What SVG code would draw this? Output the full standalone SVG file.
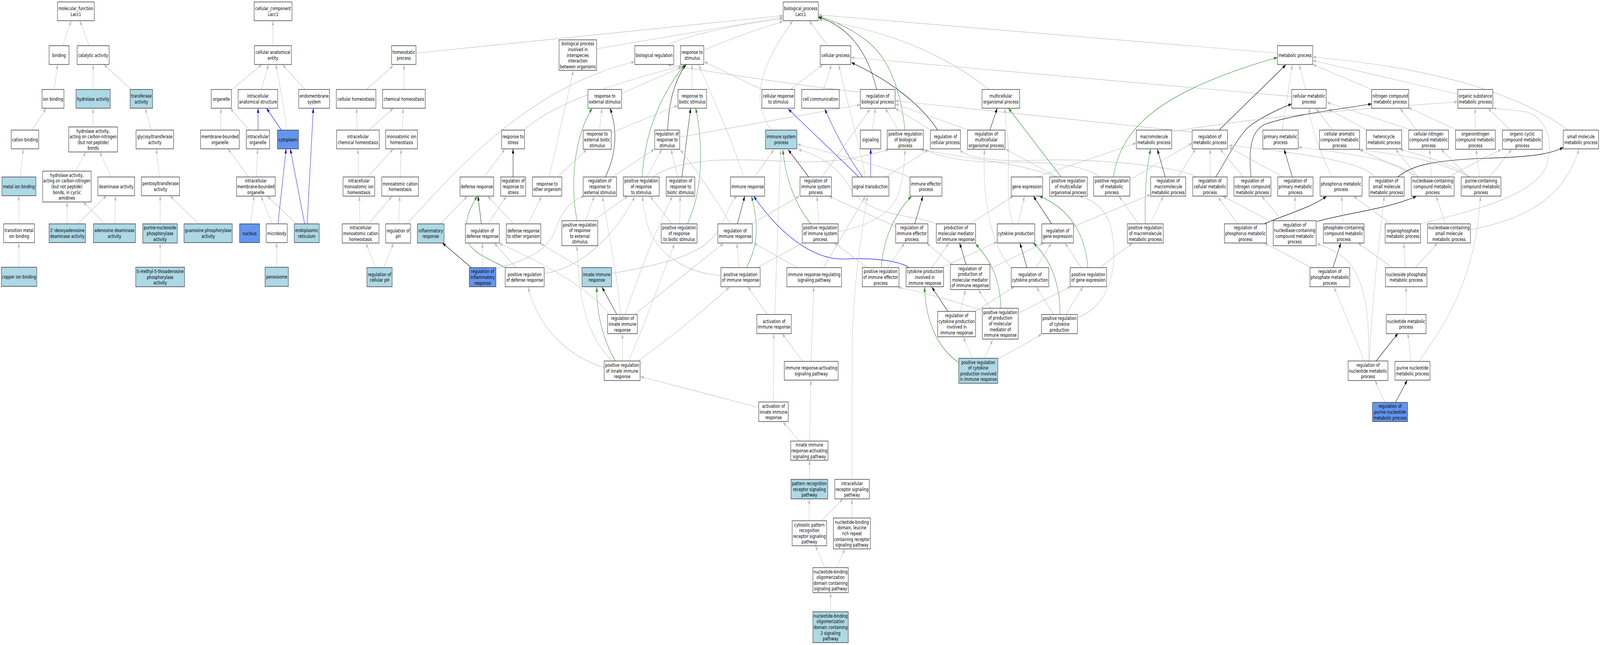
<svg xmlns="http://www.w3.org/2000/svg" width="5704" height="1651" viewBox="0 0 5704 1651" preserveAspectRatio="none" style="width:100vw;height:100vh;display:block">
<defs>
<marker id="mg" viewBox="0 0 12 8" refX="12" refY="4" markerWidth="12" markerHeight="8" markerUnits="userSpaceOnUse" orient="auto"><path d="M0,0L12,4L0,8z" fill="#BEBEBE"/></marker>
<marker id="mk" viewBox="0 0 12 8" refX="12" refY="4" markerWidth="12" markerHeight="8" markerUnits="userSpaceOnUse" orient="auto"><path d="M0,0L12,4L0,8z" fill="#000"/></marker>
<marker id="mv" viewBox="0 0 12 8" refX="12" refY="4" markerWidth="12" markerHeight="8" markerUnits="userSpaceOnUse" orient="auto"><path d="M0,0L12,4L0,8z" fill="#228B22"/></marker>
<marker id="mb" viewBox="0 0 12 8" refX="12" refY="4" markerWidth="12" markerHeight="8" markerUnits="userSpaceOnUse" orient="auto"><path d="M0,0L12,4L0,8z" fill="#0000FF"/></marker>
</defs>
<style>
.n rect{fill:#fff;stroke:#333;stroke-width:1.4}
.n.lb rect{fill:#ADD8E6}
.n.cb rect{fill:#6495ED}
text{font-family:"DejaVu Sans","Liberation Sans",sans-serif;font-size:13px;text-anchor:middle;fill:#000}
.e path{fill:none;stroke-width:1.2}
.e .g{stroke:#BEBEBE;marker-end:url(#mg)}
.e .k{stroke:#000;marker-end:url(#mk)}
.e .v{stroke:#228B22;marker-end:url(#mv)}
.e .b{stroke:#0000FF;marker-end:url(#mb)}
</style>
<rect x="0" y="0" width="5704" height="1651" fill="#fff"/>
<g id="edges" class="e">
<path class="g" d="M223.5,117L254,53"/>
<path class="g" d="M318,117L285,53"/>
<path class="g" d="M193.5,229L205,165"/>
<path class="g" d="M332,229L332,165"/>
<path class="g" d="M467,229L370.5,165"/>
<path class="g" d="M113,333L165,277"/>
<path class="g" d="M332,325L332,277"/>
<path class="g" d="M540,333L517,277"/>
<path class="g" d="M72,453L83,381"/>
<path class="g" d="M269,438L306,389"/>
<path class="g" d="M398,453L355,389"/>
<path class="g" d="M568,453L557,381"/>
<path class="g" d="M67,573L67,501"/>
<path class="g" d="M239.5,573L239,517"/>
<path class="g" d="M275.5,573L380,501"/>
<path class="g" d="M373.5,573L297,517"/>
<path class="g" d="M409,573L412,501"/>
<path class="g" d="M571,573L571,501"/>
<path class="g" d="M708.5,573L606,501"/>
<path class="g" d="M67,684L67,621"/>
<path class="g" d="M571,684L571,622"/>
<path class="g" d="M973,117L973,53"/>
<path class="g" d="M827,229L934,165"/>
<path class="g" d="M932,229L957,165"/>
<path class="g" d="M1023,333Q1005,240 983,165"/>
<path class="g" d="M1087,229L1007,165"/>
<path class="g" d="M786,333L788,277"/>
<path class="g" d="M889,333L820.5,277"/>
<path class="b" d="M920,333L920,277"/>
<path class="b" d="M1003,333L950,277"/>
<path class="g" d="M886,453L812.5,381"/>
<path class="g" d="M914,453L918.5,381"/>
<path class="g" d="M894,573L906,501"/>
<path class="g" d="M971,573L930,502"/>
<path class="g" d="M1057,573L953,502"/>
<path class="b" d="M991,573L1020,381"/>
<path class="b" d="M1086,573L1035,381"/>
<path class="b" d="M1095,573L1117,277"/>
<path class="g" d="M986.5,685L986.5,621"/>
<path class="g" d="M1483,136L2792,40"/>
<path class="g" d="M1306,229L1402,168"/>
<path class="g" d="M1440,229L1440,165"/>
<path class="g" d="M1274,333L1271,277"/>
<path class="g" d="M1315,333L1402,277"/>
<path class="g" d="M1434,333L1437,277"/>
<path class="g" d="M1279,453L1276,381"/>
<path class="g" d="M1311,453L1402,381"/>
<path class="g" d="M1427,453L1430,381"/>
<path class="g" d="M1283,573L1281,502"/>
<path class="g" d="M1314,573L1398,502"/>
<path class="g" d="M1421,573L1425,502"/>
<path class="g" d="M1451,573C1650,415 1900,220 2263,158"/>
<path class="g" d="M1339,685L1304,622"/>
<path class="g" d="M1368,685L1403,622"/>
<path class="g" d="M1726,453L1800,381"/>
<path class="g" d="M1569,573L1666,502"/>
<path class="k" d="M1716,573L1704,502"/>
<path class="v" d="M1802,685C1720,655 1655,640 1660,585C1663,550 1685,520 1702,502"/>
<path class="g" d="M1832,573L1738,502"/>
<path class="g" d="M1883,573L1931,502"/>
<path class="k" d="M1829,453L1829,381"/>
<path class="g" d="M1740,573L1805,502"/>
<path class="k" d="M1679,684L1577,622"/>
<path class="g" d="M1720,684L1720,622"/>
<path class="g" d="M1839,685L1762,622"/>
<path class="g" d="M1768,688C1900,660 1960,640 1990,570C2010,530 2050,510 2083,502"/>
<path class="g" d="M1940,700C2050,690 2180,620 2263,503"/>
<path class="g" d="M2076,688L1926,623"/>
<path class="g" d="M2172,805Q2080,718 1779,623"/>
<path class="k" d="M2199,805L2146,735"/>
<path class="g" d="M2213,805C2200,700 2170,600 2148,503"/>
<path class="g" d="M2228,805C2270,720 2330,600 2397,502"/>
<path class="g" d="M2262,805L2579,623"/>
<path class="v" d="M2057,565C2035,480 2040,360 2111,277"/>
<path class="g" d="M2087,565L2119,502"/>
<path class="g" d="M2114,565L2239,502"/>
<path class="k" d="M2158,453C2200,390 2200,330 2175,277"/>
<path class="g" d="M2183,453L2333,382"/>
<path class="v" d="M2289,453C2300,330 2360,240 2440,166"/>
<path class="g" d="M2305,453L2360,382"/>
<path class="g" d="M2328,453C2420,405 2600,405 2800,413S3100,395 3169,383"/>
<path class="k" d="M2431,453L2462,277"/>
<path class="g" d="M2416,453L2392,382"/>
<path class="g" d="M2423,573L2425,502"/>
<path class="v" d="M2451,573C2510,480 2505,360 2480,277"/>
<path class="g" d="M2395,573L2317,502"/>
<path class="k" d="M2380,333C2385,250 2410,200 2446,165"/>
<path class="g" d="M2423,351L3067,268"/>
<path class="g" d="M2137,333L2146,277"/>
<path class="g" d="M2179,340L2416,270"/>
<path class="g" d="M1958,453L2044,180"/>
<path class="g" d="M1988,453L2092,382"/>
<path class="g" d="M1867,333C1950,280 2100,230 2432,168"/>
<path class="g" d="M2216,239L2430,172"/>
<path class="g" d="M2467,229L2467,165"/>
<path class="g" d="M2127,125L2792,44"/>
<path class="g" d="M2376,117C2420,100 2550,70 2792,48"/>
<path class="g" d="M2509,128Q2650,85 2792,55"/>
<path class="g" d="M2716,229L2510,158"/>
<path class="g" d="M3067,236Q2800,215 2381,166"/>
<path class="g" d="M2652,453C2620,380 2560,280 2491,166"/>
<path class="g" d="M2951,117L2885,53"/>
<path class="g" d="M2749,333C2680,260 2700,180 2826,53"/>
<path class="k" d="M3125,229C3100,150 3040,70 2917,44"/>
<path class="v" d="M3226,333C3215,250 3180,160 3100,110C3040,75 2980,55 2919,42"/>
<path class="k" d="M3343,333C3280,265 3170,205 3035,160"/>
<path class="g" d="M4606,247L3033,147"/>
<path class="g" d="M4554,136L2917,38"/>
<path class="g" d="M3527,229C3420,170 3250,90 2919,50"/>
<path class="g" d="M2818,229L2933,166"/>
<path class="g" d="M2936,229L2964,166"/>
<path class="g" d="M3086,453C3060,360 3020,260 2990,166"/>
<path class="b" d="M3062,453L2810,279"/>
<path class="b" d="M3075,453Q3008,388 2940,279"/>
<path class="b" d="M3104,453L3104,381"/>
<path class="g" d="M3158,453L3311,383"/>
<path class="g" d="M3110,333L3121,277"/>
<path class="g" d="M3203,333L3156,277"/>
<path class="g" d="M3319,333L3191,277"/>
<path class="g" d="M4250,338L3191,258"/>
<path class="g" d="M3453,333L3191,266"/>
<path class="g" d="M2931,453L3102,279"/>
<path class="g" d="M2690,453L2759,383"/>
<path class="k" d="M2883,453L2810,383"/>
<path class="v" d="M2891,573C2840,530 2800,460 2791,383"/>
<path class="g" d="M2762,805L2783,383"/>
<path class="g" d="M3244,455Q3200,435 2842,369"/>
<path class="g" d="M3338,573C3250,545 3100,560 3030,480C2990,430 2920,395 2845,383"/>
<path class="k" d="M2629,573L2655,502"/>
<path class="v" d="M2661,685C2710,620 2700,560 2679,502"/>
<path class="b" d="M3241,685C3200,665 3100,660 3008,663C2900,665 2780,600 2687,502"/>
<path class="g" d="M2180,700C2380,675 2510,650 2560,590C2590,550 2605,515 2628,502"/>
<path class="g" d="M2604,573C2560,520 2480,430 2424,383"/>
<path class="g" d="M2679,573L2850,502"/>
<path class="g" d="M2920,573L2912,502"/>
<path class="g" d="M2988,593C3100,578 3190,545 3210,480Q3225,430 3226,383"/>
<path class="k" d="M3261,573L3290,502"/>
<path class="g" d="M3193,580L2955,502"/>
<path class="g" d="M2636,685L2627,622"/>
<path class="g" d="M2700,685L2861,622"/>
<path class="g" d="M2570,705C2450,700 2340,650 2310,580Q2295,540 2290,502"/>
<path class="g" d="M2842,685L2687,622"/>
<path class="g" d="M2936,685L3086,502"/>
<path class="v" d="M3142,685C3150,600 3200,540 3249,502"/>
<path class="g" d="M3164,685L3225,622"/>
<path class="g" d="M3093,685L2974,622"/>
<path class="g" d="M3322,685L3383,622"/>
<path class="g" d="M3357,685L3555,619"/>
<path class="g" d="M2735,805L2666,734"/>
<path class="g" d="M2862,925L2788,854"/>
<path class="g" d="M2757,1029L2759,854"/>
<path class="g" d="M2891,925L2901,734"/>
<path class="g" d="M3037,1227L3038,880C3040,750 3070,600 3092,502"/>
<path class="g" d="M2705,1043L2283,964"/>
<path class="g" d="M2850,1129L2791,1080"/>
<path class="g" d="M2886,1129L2891,973"/>
<path class="g" d="M2886,1227L2886,1178"/>
<path class="g" d="M2885,1333L2885,1277"/>
<path class="g" d="M2929,1333L3005,1277"/>
<path class="g" d="M3037,1326L3037,1277"/>
<path class="g" d="M2940,1453L2907,1397"/>
<path class="g" d="M2982,1453L3012,1405"/>
<path class="g" d="M2961,1566L2961,1517"/>
<path class="g" d="M2154,941C2020,910 1920,840 1883,735"/>
<path class="g" d="M2182,924C2110,870 2062,800 2057,629"/>
<path class="v" d="M2194,924C2150,870 2125,800 2128,735"/>
<path class="g" d="M2240,924C2290,850 2340,740 2405,624"/>
<path class="g" d="M2274,924Q2420,850 2601,735"/>
<path class="g" d="M2219,924L2219,854"/>
<path class="k" d="M3529,333L3555,277"/>
<path class="v" d="M3783,453L3595,277"/>
<path class="g" d="M3770,453L3585,382"/>
<path class="g" d="M3765,453C3650,420 3450,405 3282,383"/>
<path class="g" d="M3922,453C3850,415 3700,415 3550,415C3430,415 3350,400 3292,383"/>
<path class="g" d="M4265,453C4200,425 3900,405 3700,410C3550,415 3450,405 3421,383"/>
<path class="g" d="M3697,453L4051,366"/>
<path class="v" d="M3969,453C3995,340 4100,240 4554,147"/>
<path class="g" d="M4028,460L4250,366"/>
<path class="k" d="M4154,453L4126,382"/>
<path class="g" d="M4199,453L4263,381"/>
<path class="g" d="M3630,573L3652,502"/>
<path class="g" d="M3610,573C3580,500 3605,400 3590,340Q3584,300 3582,277"/>
<path class="g" d="M3459,573L3612,502"/>
<path class="k" d="M3749,573L3684,502"/>
<path class="g" d="M3827,580L4102,498"/>
<path class="v" d="M4083,573C4080,480 4090,420 4102,382"/>
<path class="g" d="M4059,573L3989,502"/>
<path class="g" d="M4101,573L4147,502"/>
<path class="k" d="M3444,677L3421,622"/>
<path class="g" d="M3399,680L3303,622"/>
<path class="g" d="M3529,688L3721,622"/>
<path class="k" d="M3661,685L3636,622"/>
<path class="g" d="M3694,685L3748,622"/>
<path class="g" d="M3606,685C3540,640 3500,520 3510,382"/>
<path class="v" d="M3878,685C3870,590 3800,530 3705,502"/>
<path class="g" d="M3855,685L3796,622"/>
<path class="g" d="M3922,685L4037,622"/>
<path class="k" d="M3379,797L3322,735"/>
<path class="g" d="M3478,797L3617,733"/>
<path class="g" d="M3424,797L3442,742"/>
<path class="v" d="M3568,789C3565,700 3520,660 3478,624"/>
<path class="g" d="M3531,789L3488,742"/>
<path class="g" d="M3502,795C3400,770 3300,750 3201,735"/>
<path class="g" d="M3630,802L3818,733"/>
<path class="v" d="M3779,805C3780,720 3740,660 3684,622"/>
<path class="g" d="M3756,805L3695,735"/>
<path class="g" d="M3799,805L3861,734"/>
<path class="g" d="M3842,813C3960,780 3990,680 3960,580C3940,530 3890,510 3847,502"/>
<path class="v" d="M3418,928C3340,890 3300,820 3296,735"/>
<path class="g" d="M3467,917L3434,863"/>
<path class="g" d="M3510,917L3539,870"/>
<path class="g" d="M3557,919C3620,895 3680,870 3714,855"/>
<path class="k" d="M4346,333L4584,166"/>
<path class="g" d="M4655,229L4631,166"/>
<path class="g" d="M4571,333L4607,166"/>
<path class="g" d="M5591,333C5450,260 5200,180 4680,146"/>
<path class="g" d="M5197,241L4680,155"/>
<path class="g" d="M4890,229L4680,165"/>
<path class="k" d="M4334,453C4380,400 4420,340 4460,320Q4520,290 4605,266"/>
<path class="g" d="M4748,453C4700,380 4675,330 4667,277"/>
<path class="g" d="M4750,333L4691,277"/>
<path class="g" d="M4873,333L4735,279"/>
<path class="g" d="M5034,333L4730,262"/>
<path class="g" d="M4177,337C4400,310 4700,285 5197,261"/>
<path class="g" d="M5045,453C5000,415 4850,395 4628,377"/>
<path class="g" d="M5060,453L4845,383"/>
<path class="g" d="M5055,453L4975,382"/>
<path class="g" d="M5103,453L5097,382"/>
<path class="g" d="M5161,453L5353,382"/>
<path class="g" d="M5239,453C5100,400 4950,395 4847,382"/>
<path class="g" d="M5243,453C5150,410 5050,395 4991,382"/>
<path class="g" d="M5235,453L5137,382"/>
<path class="g" d="M5275,453L5262,382"/>
<path class="g" d="M5310,453L5390,382"/>
<path class="g" d="M5050,333L4991,277"/>
<path class="g" d="M5194,333L5020,275"/>
<path class="g" d="M5259,333L5259,277"/>
<path class="g" d="M5385,333L5305,277"/>
<path class="g" d="M5050,575C5250,540 5480,500 5515,420C5545,340 5490,290 5430,285Q5370,280 5322,277"/>
<path class="g" d="M4314,453L4314,381"/>
<path class="g" d="M4433,453L4349,381"/>
<path class="g" d="M4574,453L4381,377"/>
<path class="g" d="M4900,453C4860,410 4600,390 4381,372"/>
<path class="k" d="M4607,453L4578,382"/>
<path class="k" d="M4460,453C4450,380 4460,335 4510,318C4600,295 4750,282 4890,266"/>
<path class="k" d="M4983,453C5030,425 5100,410 5300,405C5450,402 5530,395 5573,377"/>
<path class="k" d="M4507,573C4580,550 4680,530 4729,502"/>
<path class="g" d="M4413,573L4343,505"/>
<path class="k" d="M4694,567C4800,545 4950,535 5050,502"/>
<path class="g" d="M4536,569L4359,502"/>
<path class="g" d="M4573,566L4498,502"/>
<path class="g" d="M4616,565L4617,502"/>
<path class="g" d="M4788,573L4783,502"/>
<path class="g" d="M4959,573L4825,502"/>
<path class="g" d="M5153,573L5120,502"/>
<path class="g" d="M5242,588C5450,560 5580,500 5629,382"/>
<path class="k" d="M4752,685L4780,622"/>
<path class="g" d="M4675,685L4507,622"/>
<path class="g" d="M4964,685L4841,622"/>
<path class="g" d="M5010,685L5005,622"/>
<path class="g" d="M5046,685L5125,622"/>
<path class="g" d="M5013,805L5013,734"/>
<path class="k" d="M4906,924L4984,853"/>
<path class="g" d="M4864,924L4756,735"/>
<path class="g" d="M4880,924C4880,820 4875,720 4800,665Q4750,635 4694,624"/>
<path class="g" d="M4881,924C4890,800 4910,650 4935,502"/>
<path class="g" d="M5031,925L5019,853"/>
<path class="g" d="M5059,925C5150,830 5260,720 5278,502"/>
<path class="g" d="M4938,1030L4902,974"/>
<path class="k" d="M4975,1030L5017,973"/>
</g>
<g id="nodes">
<g id="mf_root" class="n"><rect x="205" y="5" width="131" height="48"/><text><tspan x="270.5" y="26.3">molecular_function</tspan><tspan x="270.5" y="40.9">Lacc1</tspan></text></g>
<g id="mf_binding" class="n"><rect x="175" y="117" width="71" height="48"/><text><tspan x="210.5" y="145.6">binding</tspan></text></g>
<g id="mf_catalytic" class="n"><rect x="275" y="117" width="114" height="48"/><text><tspan x="332" y="145.6">catalytic activity</tspan></text></g>
<g id="mf_ion" class="n"><rect x="150" y="229" width="78" height="48"/><text><tspan x="189" y="257.6">ion binding</tspan></text></g>
<g id="mf_hydrolase" class="n lb"><rect x="271" y="229" width="122" height="48"/><text><tspan x="332" y="257.6">hydrolase activity</tspan></text></g>
<g id="mf_transferase" class="n lb"><rect x="464" y="229" width="80" height="48"/><text><tspan x="504" y="250.3">transferase</tspan><tspan x="504" y="264.9">activity</tspan></text></g>
<g id="mf_cation" class="n"><rect x="40" y="333" width="98" height="48"/><text><tspan x="89" y="361.6">cation binding</tspan></text></g>
<g id="mf_hydcn" class="n"><rect x="245" y="325" width="174" height="64"/><text><tspan x="332" y="339.7">hydrolase activity,</tspan><tspan x="332" y="354.3">acting on carbon-nitrogen</tspan><tspan x="332" y="368.9">(but not peptide)</tspan><tspan x="332" y="383.5">bonds</tspan></text></g>
<g id="mf_glyco" class="n"><rect x="485" y="333" width="134" height="48"/><text><tspan x="552" y="354.3">glycosyltransferase</tspan><tspan x="552" y="368.9">activity</tspan></text></g>
<g id="mf_metal" class="n lb"><rect x="7" y="453" width="121" height="48"/><text><tspan x="67.5" y="481.6">metal ion binding</tspan></text></g>
<g id="mf_cyclic" class="n"><rect x="152" y="438" width="173" height="79"/><text><tspan x="238.5" y="452.9">hydrolase activity,</tspan><tspan x="238.5" y="467.5">acting on carbon-nitrogen</tspan><tspan x="238.5" y="482.1">(but not peptide)</tspan><tspan x="238.5" y="496.7">bonds, in cyclic</tspan><tspan x="238.5" y="511.3">amidines</tspan></text></g>
<g id="mf_deaminase" class="n"><rect x="349" y="453" width="131" height="48"/><text><tspan x="414.5" y="481.6">deaminase activity</tspan></text></g>
<g id="mf_pentosyl" class="n"><rect x="504" y="453" width="136" height="48"/><text><tspan x="572" y="474.3">pentosyltransferase</tspan><tspan x="572" y="488.9">activity</tspan></text></g>
<g id="mf_transition" class="n"><rect x="13" y="573" width="110" height="48"/><text><tspan x="68" y="594.3">transition metal</tspan><tspan x="68" y="608.9">ion binding</tspan></text></g>
<g id="mf_deoxyad" class="n lb"><rect x="175" y="573" width="130" height="48"/><text><tspan x="240" y="594.3">2'-deoxyadenosine</tspan><tspan x="240" y="608.9">deaminase activity</tspan></text></g>
<g id="mf_adenosine" class="n lb"><rect x="333" y="573" width="150" height="48"/><text><tspan x="408" y="594.3">adenosine deaminase</tspan><tspan x="408" y="608.9">activity</tspan></text></g>
<g id="mf_pnp" class="n lb"><rect x="509" y="573" width="123" height="49"/><text><tspan x="570.5" y="587.5">purine-nucleoside</tspan><tspan x="570.5" y="602.1">phosphorylase</tspan><tspan x="570.5" y="616.7">activity</tspan></text></g>
<g id="mf_guanosine" class="n lb"><rect x="656" y="573" width="172" height="48"/><text><tspan x="742" y="594.3">guanosine phosphorylase</tspan><tspan x="742" y="608.9">activity</tspan></text></g>
<g id="mf_copper" class="n lb"><rect x="5" y="684" width="126" height="49"/><text><tspan x="68" y="713.1">copper ion binding</tspan></text></g>
<g id="mf_mtap" class="n lb"><rect x="484" y="684" width="174" height="50"/><text><tspan x="571" y="699">S-methyl-5-thioadenosine</tspan><tspan x="571" y="713.6">phosphorylase</tspan><tspan x="571" y="728.2">activity</tspan></text></g>
<g id="cc_root" class="n"><rect x="906" y="5" width="135" height="48"/><text><tspan x="973.5" y="26.3">cellular_component</tspan><tspan x="973.5" y="40.9">Lacc1</tspan></text></g>
<g id="cc_entity" class="n"><rect x="907" y="117" width="132" height="48"/><text><tspan x="973" y="138.3">cellular anatomical</tspan><tspan x="973" y="152.9">entity</tspan></text></g>
<g id="cc_organelle" class="n"><rect x="753" y="229" width="72" height="48"/><text><tspan x="789" y="257.6">organelle</tspan></text></g>
<g id="cc_intra_struct" class="n"><rect x="849" y="229" width="141" height="48"/><text><tspan x="919.5" y="250.3">intracellular</tspan><tspan x="919.5" y="264.9">anatomical structure</tspan></text></g>
<g id="cc_endomem" class="n"><rect x="1065" y="229" width="110" height="48"/><text><tspan x="1120" y="250.3">endomembrane</tspan><tspan x="1120" y="264.9">system</tspan></text></g>
<g id="cc_mbo" class="n"><rect x="715" y="333" width="138" height="48"/><text><tspan x="784" y="354.3">membrane-bounded</tspan><tspan x="784" y="368.9">organelle</tspan></text></g>
<g id="cc_io" class="n"><rect x="878" y="333" width="83" height="48"/><text><tspan x="919.5" y="354.3">intracellular</tspan><tspan x="919.5" y="368.9">organelle</tspan></text></g>
<g id="cc_cytoplasm" class="n cb"><rect x="989" y="333" width="75" height="48"/><text><tspan x="1026.5" y="361.6">cytoplasm</tspan></text></g>
<g id="cc_imbo" class="n"><rect x="843" y="453" width="138" height="49"/><text><tspan x="912" y="467.5">intracellular</tspan><tspan x="912" y="482.1">membrane-bounded</tspan><tspan x="912" y="496.7">organelle</tspan></text></g>
<g id="cc_nucleus" class="n cb"><rect x="854" y="573" width="71" height="48"/><text><tspan x="889.5" y="601.6">nucleus</tspan></text></g>
<g id="cc_microbody" class="n"><rect x="949" y="573" width="75" height="48"/><text><tspan x="986.5" y="601.6">microbody</tspan></text></g>
<g id="cc_er" class="n lb"><rect x="1049" y="573" width="89" height="48"/><text><tspan x="1093.5" y="594.3">endoplasmic</tspan><tspan x="1093.5" y="608.9">reticulum</tspan></text></g>
<g id="cc_peroxisome" class="n lb"><rect x="945" y="684" width="83" height="49"/><text><tspan x="986.5" y="713.1">peroxisome</tspan></text></g>
<g id="b1" class="n"><rect x="2792" y="5" width="125" height="48"/><text><tspan x="2854.5" y="26.3">biological_process</tspan><tspan x="2854.5" y="40.9">Lacc1</tspan></text></g>
<g id="b2" class="n"><rect x="1396" y="117" width="87" height="48"/><text><tspan x="1439.5" y="138.3">homeostatic</tspan><tspan x="1439.5" y="152.9">process</tspan></text></g>
<g id="b3" class="n"><rect x="1993" y="102" width="134" height="78"/><text><tspan x="2060" y="116.4">biological process</tspan><tspan x="2060" y="131">involved in</tspan><tspan x="2060" y="145.6">interspecies</tspan><tspan x="2060" y="160.2">interaction</tspan><tspan x="2060" y="174.8">between organisms</tspan></text></g>
<g id="b4" class="n"><rect x="2263" y="117" width="139" height="48"/><text><tspan x="2332.5" y="145.6">biological regulation</tspan></text></g>
<g id="b5" class="n"><rect x="2426" y="117" width="83" height="48"/><text><tspan x="2467.5" y="138.3">response to</tspan><tspan x="2467.5" y="152.9">stimulus</tspan></text></g>
<g id="b6" class="n"><rect x="2924" y="117" width="109" height="48"/><text><tspan x="2978.5" y="145.6">cellular process</tspan></text></g>
<g id="b7" class="n"><rect x="4554" y="117" width="126" height="48"/><text><tspan x="4617" y="145.6">metabolic process</tspan></text></g>
<g id="b8" class="n"><rect x="1199" y="229" width="141" height="48"/><text><tspan x="1269.5" y="257.6">cellular homeostasis</tspan></text></g>
<g id="b9" class="n"><rect x="1364" y="229" width="152" height="48"/><text><tspan x="1440" y="257.6">chemical homeostasis</tspan></text></g>
<g id="b10" class="n"><rect x="2096" y="229" width="120" height="48"/><text><tspan x="2156" y="250.3">response to</tspan><tspan x="2156" y="264.9">external stimulus</tspan></text></g>
<g id="b11" class="n"><rect x="2417" y="229" width="102" height="48"/><text><tspan x="2468" y="250.3">response to</tspan><tspan x="2468" y="264.9">biotic stimulus</tspan></text></g>
<g id="b12" class="n"><rect x="2716" y="229" width="117" height="48"/><text><tspan x="2774.5" y="250.3">cellular response</tspan><tspan x="2774.5" y="264.9">to stimulus</tspan></text></g>
<g id="b13" class="n"><rect x="2858" y="229" width="134" height="48"/><text><tspan x="2925" y="257.6">cell communication</tspan></text></g>
<g id="b14" class="n"><rect x="3067" y="229" width="124" height="48"/><text><tspan x="3129" y="250.3">regulation of</tspan><tspan x="3129" y="264.9">biological process</tspan></text></g>
<g id="b15" class="n"><rect x="3501" y="229" width="134" height="48"/><text><tspan x="3568" y="250.3">multicellular</tspan><tspan x="3568" y="264.9">organismal process</tspan></text></g>
<g id="b16" class="n"><rect x="4605" y="229" width="123" height="48"/><text><tspan x="4666.5" y="250.3">cellular metabolic</tspan><tspan x="4666.5" y="264.9">process</tspan></text></g>
<g id="b17" class="n"><rect x="4890" y="229" width="132" height="48"/><text><tspan x="4956" y="250.3">nitrogen compound</tspan><tspan x="4956" y="264.9">metabolic process</tspan></text></g>
<g id="b18" class="n"><rect x="5197" y="229" width="125" height="48"/><text><tspan x="5259.5" y="250.3">organic substance</tspan><tspan x="5259.5" y="264.9">metabolic process</tspan></text></g>
<g id="b19" class="n"><rect x="1200" y="333" width="152" height="48"/><text><tspan x="1276" y="354.3">intracellular</tspan><tspan x="1276" y="368.9">chemical homeostasis</tspan></text></g>
<g id="b20" class="n"><rect x="1375" y="333" width="113" height="48"/><text><tspan x="1431.5" y="354.3">monoatomic ion</tspan><tspan x="1431.5" y="368.9">homeostasis</tspan></text></g>
<g id="b21" class="n"><rect x="1788" y="333" width="82" height="48"/><text><tspan x="1829" y="354.3">response to</tspan><tspan x="1829" y="368.9">stress</tspan></text></g>
<g id="b22" class="n"><rect x="2079" y="333" width="100" height="49"/><text><tspan x="2129" y="347.5">response to</tspan><tspan x="2129" y="362.1">external biotic</tspan><tspan x="2129" y="376.7">stimulus</tspan></text></g>
<g id="b23" class="n"><rect x="2334" y="333" width="89" height="49"/><text><tspan x="2378.5" y="347.5">regulation of</tspan><tspan x="2378.5" y="362.1">response to</tspan><tspan x="2378.5" y="376.7">stimulus</tspan></text></g>
<g id="b24" class="n lb"><rect x="2729" y="333" width="112" height="48"/><text><tspan x="2785" y="354.3">immune system</tspan><tspan x="2785" y="368.9">process</tspan></text></g>
<g id="b25" class="n"><rect x="3067" y="333" width="73" height="48"/><text><tspan x="3103.5" y="361.6">signaling</tspan></text></g>
<g id="b26" class="n"><rect x="3163" y="333" width="129" height="49"/><text><tspan x="3227.5" y="347.5">positive regulation</tspan><tspan x="3227.5" y="362.1">of biological</tspan><tspan x="3227.5" y="376.7">process</tspan></text></g>
<g id="b27" class="n"><rect x="3317" y="333" width="107" height="48"/><text><tspan x="3370.5" y="354.3">regulation of</tspan><tspan x="3370.5" y="368.9">cellular process</tspan></text></g>
<g id="b28" class="n"><rect x="3449" y="333" width="134" height="49"/><text><tspan x="3516" y="347.5">regulation of</tspan><tspan x="3516" y="362.1">multicellular</tspan><tspan x="3516" y="376.7">organismal process</tspan></text></g>
<g id="b29" class="n"><rect x="4051" y="333" width="126" height="48"/><text><tspan x="4114" y="354.3">macromolecule</tspan><tspan x="4114" y="368.9">metabolic process</tspan></text></g>
<g id="b30" class="n"><rect x="4250" y="333" width="126" height="48"/><text><tspan x="4313" y="354.3">regulation of</tspan><tspan x="4313" y="368.9">metabolic process</tspan></text></g>
<g id="b31" class="n"><rect x="4502" y="333" width="126" height="48"/><text><tspan x="4565" y="354.3">primary metabolic</tspan><tspan x="4565" y="368.9">process</tspan></text></g>
<g id="b32" class="n"><rect x="4704" y="333" width="143" height="49"/><text><tspan x="4775.5" y="347.5">cellular aromatic</tspan><tspan x="4775.5" y="362.1">compound metabolic</tspan><tspan x="4775.5" y="376.7">process</tspan></text></g>
<g id="b33" class="n"><rect x="4871" y="333" width="126" height="48"/><text><tspan x="4934" y="354.3">heterocycle</tspan><tspan x="4934" y="368.9">metabolic process</tspan></text></g>
<g id="b34" class="n"><rect x="5022" y="333" width="142" height="49"/><text><tspan x="5093" y="347.5">cellular nitrogen</tspan><tspan x="5093" y="362.1">compound metabolic</tspan><tspan x="5093" y="376.7">process</tspan></text></g>
<g id="b35" class="n"><rect x="5189" y="333" width="142" height="49"/><text><tspan x="5260" y="347.5">organonitrogen</tspan><tspan x="5260" y="362.1">compound metabolic</tspan><tspan x="5260" y="376.7">process</tspan></text></g>
<g id="b36" class="n"><rect x="5356" y="333" width="142" height="49"/><text><tspan x="5427" y="347.5">organic cyclic</tspan><tspan x="5427" y="362.1">compound metabolic</tspan><tspan x="5427" y="376.7">process</tspan></text></g>
<g id="b37" class="n"><rect x="5573" y="333" width="126" height="48"/><text><tspan x="5636" y="354.3">small molecule</tspan><tspan x="5636" y="368.9">metabolic process</tspan></text></g>
<g id="b38" class="n"><rect x="1223" y="453" width="113" height="49"/><text><tspan x="1279.5" y="467.5">intracellular</tspan><tspan x="1279.5" y="482.1">monoatomic ion</tspan><tspan x="1279.5" y="496.7">homeostasis</tspan></text></g>
<g id="b39" class="n"><rect x="1361" y="453" width="131" height="49"/><text><tspan x="1426.5" y="474.8">monoatomic cation</tspan><tspan x="1426.5" y="489.4">homeostasis</tspan></text></g>
<g id="b40" class="n"><rect x="1640" y="453" width="120" height="49"/><text><tspan x="1700" y="482.1">defense response</tspan></text></g>
<g id="b41" class="n"><rect x="1785" y="453" width="89" height="49"/><text><tspan x="1829.5" y="467.5">regulation of</tspan><tspan x="1829.5" y="482.1">response to</tspan><tspan x="1829.5" y="496.7">stress</tspan></text></g>
<g id="b42" class="n"><rect x="1898" y="453" width="105" height="49"/><text><tspan x="1950.5" y="474.8">response to</tspan><tspan x="1950.5" y="489.4">other organism</tspan></text></g>
<g id="b43" class="n"><rect x="2079" y="453" width="119" height="49"/><text><tspan x="2138.5" y="467.5">regulation of</tspan><tspan x="2138.5" y="482.1">response to</tspan><tspan x="2138.5" y="496.7">external stimulus</tspan></text></g>
<g id="b44" class="n"><rect x="2222" y="453" width="128" height="49"/><text><tspan x="2286" y="467.5">positive regulation</tspan><tspan x="2286" y="482.1">of response</tspan><tspan x="2286" y="496.7">to stimulus</tspan></text></g>
<g id="b45" class="n"><rect x="2375" y="453" width="102" height="49"/><text><tspan x="2426" y="467.5">regulation of</tspan><tspan x="2426" y="482.1">response to</tspan><tspan x="2426" y="496.7">biotic stimulus</tspan></text></g>
<g id="b46" class="n"><rect x="2604" y="453" width="122" height="49"/><text><tspan x="2665" y="482.1">immune response</tspan></text></g>
<g id="b47" class="n"><rect x="2852" y="453" width="112" height="49"/><text><tspan x="2908" y="467.5">regulation of</tspan><tspan x="2908" y="482.1">immune system</tspan><tspan x="2908" y="496.7">process</tspan></text></g>
<g id="b48" class="n"><rect x="3038" y="453" width="131" height="49"/><text><tspan x="3103.5" y="482.1">signal transduction</tspan></text></g>
<g id="b49" class="n"><rect x="3244" y="453" width="114" height="49"/><text><tspan x="3301" y="474.8">immune effector</tspan><tspan x="3301" y="489.4">process</tspan></text></g>
<g id="b50" class="n"><rect x="3605" y="453" width="112" height="49"/><text><tspan x="3661" y="482.1">gene expression</tspan></text></g>
<g id="b51" class="n"><rect x="3742" y="453" width="134" height="49"/><text><tspan x="3809" y="467.5">positive regulation</tspan><tspan x="3809" y="482.1">of multicellular</tspan><tspan x="3809" y="496.7">organismal process</tspan></text></g>
<g id="b52" class="n"><rect x="3899" y="453" width="129" height="49"/><text><tspan x="3963.5" y="467.5">positive regulation</tspan><tspan x="3963.5" y="482.1">of metabolic</tspan><tspan x="3963.5" y="496.7">process</tspan></text></g>
<g id="b53" class="n"><rect x="4102" y="453" width="125" height="49"/><text><tspan x="4164.5" y="467.5">regulation of</tspan><tspan x="4164.5" y="482.1">macromolecule</tspan><tspan x="4164.5" y="496.7">metabolic process</tspan></text></g>
<g id="b54" class="n"><rect x="4252" y="453" width="123" height="49"/><text><tspan x="4313.5" y="467.5">regulation of</tspan><tspan x="4313.5" y="482.1">cellular metabolic</tspan><tspan x="4313.5" y="496.7">process</tspan></text></g>
<g id="b55" class="n"><rect x="4399" y="453" width="132" height="49"/><text><tspan x="4465" y="467.5">regulation of</tspan><tspan x="4465" y="482.1">nitrogen compound</tspan><tspan x="4465" y="496.7">metabolic process</tspan></text></g>
<g id="b56" class="n"><rect x="4555" y="453" width="126" height="49"/><text><tspan x="4618" y="467.5">regulation of</tspan><tspan x="4618" y="482.1">primary metabolic</tspan><tspan x="4618" y="496.7">process</tspan></text></g>
<g id="b57" class="n"><rect x="4706" y="453" width="150" height="49"/><text><tspan x="4781" y="474.8">phosphorus metabolic</tspan><tspan x="4781" y="489.4">process</tspan></text></g>
<g id="b58" class="n"><rect x="4881" y="453" width="125" height="49"/><text><tspan x="4943.5" y="467.5">regulation of</tspan><tspan x="4943.5" y="482.1">small molecule</tspan><tspan x="4943.5" y="496.7">metabolic process</tspan></text></g>
<g id="b59" class="n"><rect x="5031" y="453" width="153" height="49"/><text><tspan x="5107.5" y="467.5">nucleobase-containing</tspan><tspan x="5107.5" y="482.1">compound metabolic</tspan><tspan x="5107.5" y="496.7">process</tspan></text></g>
<g id="b60" class="n"><rect x="5209" y="453" width="142" height="49"/><text><tspan x="5280" y="467.5">purine-containing</tspan><tspan x="5280" y="482.1">compound metabolic</tspan><tspan x="5280" y="496.7">process</tspan></text></g>
<g id="b61" class="n"><rect x="1220" y="573" width="131" height="49"/><text><tspan x="1285.5" y="587.5">intracellular</tspan><tspan x="1285.5" y="602.1">monoatomic cation</tspan><tspan x="1285.5" y="616.7">homeostasis</tspan></text></g>
<g id="b62" class="n"><rect x="1375" y="573" width="89" height="49"/><text><tspan x="1419.5" y="594.8">regulation of</tspan><tspan x="1419.5" y="609.4">pH</tspan></text></g>
<g id="b63" class="n lb"><rect x="1488" y="573" width="95" height="49"/><text><tspan x="1535.5" y="594.8">inflammatory</tspan><tspan x="1535.5" y="609.4">response</tspan></text></g>
<g id="b64" class="n"><rect x="1659" y="573" width="121" height="49"/><text><tspan x="1719.5" y="594.8">regulation of</tspan><tspan x="1719.5" y="609.4">defense response</tspan></text></g>
<g id="b65" class="n"><rect x="1805" y="573" width="123" height="49"/><text><tspan x="1866.5" y="594.8">defense response</tspan><tspan x="1866.5" y="609.4">to other organism</tspan></text></g>
<g id="b66" class="n"><rect x="2003" y="565" width="128" height="64"/><text><tspan x="2067" y="579.7">positive regulation</tspan><tspan x="2067" y="594.3">of response</tspan><tspan x="2067" y="608.9">to external</tspan><tspan x="2067" y="623.5">stimulus</tspan></text></g>
<g id="b67" class="n"><rect x="2357" y="573" width="128" height="49"/><text><tspan x="2421" y="587.5">positive regulation</tspan><tspan x="2421" y="602.1">of response</tspan><tspan x="2421" y="616.7">to biotic stimulus</tspan></text></g>
<g id="b68" class="n"><rect x="2559" y="573" width="123" height="49"/><text><tspan x="2620.5" y="594.8">regulation of</tspan><tspan x="2620.5" y="609.4">immune response</tspan></text></g>
<g id="b69" class="n"><rect x="2860" y="573" width="128" height="49"/><text><tspan x="2924" y="587.5">positive regulation</tspan><tspan x="2924" y="602.1">of immune system</tspan><tspan x="2924" y="616.7">process</tspan></text></g>
<g id="b70" class="n"><rect x="3193" y="573" width="115" height="49"/><text><tspan x="3250.5" y="587.5">regulation of</tspan><tspan x="3250.5" y="602.1">immune effector</tspan><tspan x="3250.5" y="616.7">process</tspan></text></g>
<g id="b71" class="n"><rect x="3338" y="573" width="140" height="49"/><text><tspan x="3408" y="587.5">production of</tspan><tspan x="3408" y="602.1">molecular mediator</tspan><tspan x="3408" y="616.7">of immune response</tspan></text></g>
<g id="b72" class="n"><rect x="3555" y="573" width="134" height="49"/><text><tspan x="3622" y="602.1">cytokine production</tspan></text></g>
<g id="b73" class="n"><rect x="3714" y="573" width="113" height="49"/><text><tspan x="3770.5" y="594.8">regulation of</tspan><tspan x="3770.5" y="609.4">gene expression</tspan></text></g>
<g id="b74" class="n"><rect x="4019" y="573" width="128" height="49"/><text><tspan x="4083" y="587.5">positive regulation</tspan><tspan x="4083" y="602.1">of macromolecule</tspan><tspan x="4083" y="616.7">metabolic process</tspan></text></g>
<g id="b75" class="n"><rect x="4365" y="573" width="150" height="49"/><text><tspan x="4440" y="587.5">regulation of</tspan><tspan x="4440" y="602.1">phosphorus metabolic</tspan><tspan x="4440" y="616.7">process</tspan></text></g>
<g id="b76" class="n"><rect x="4539" y="565" width="153" height="64"/><text><tspan x="4615.5" y="579.7">regulation of</tspan><tspan x="4615.5" y="594.3">nucleobase-containing</tspan><tspan x="4615.5" y="608.9">compound metabolic</tspan><tspan x="4615.5" y="623.5">process</tspan></text></g>
<g id="b77" class="n"><rect x="4718" y="573" width="145" height="49"/><text><tspan x="4790.5" y="587.5">phosphate-containing</tspan><tspan x="4790.5" y="602.1">compound metabolic</tspan><tspan x="4790.5" y="616.7">process</tspan></text></g>
<g id="b78" class="n"><rect x="4938" y="573" width="126" height="49"/><text><tspan x="5001" y="594.8">organophosphate</tspan><tspan x="5001" y="609.4">metabolic process</tspan></text></g>
<g id="b79" class="n"><rect x="5089" y="573" width="153" height="49"/><text><tspan x="5165.5" y="587.5">nucleobase-containing</tspan><tspan x="5165.5" y="602.1">small molecule</tspan><tspan x="5165.5" y="616.7">metabolic process</tspan></text></g>
<g id="b80" class="n lb"><rect x="1308" y="685" width="90" height="49"/><text><tspan x="1353" y="706.8">regulation of</tspan><tspan x="1353" y="721.4">cellular pH</tspan></text></g>
<g id="b81" class="n cb"><rect x="1673" y="685" width="95" height="49"/><text><tspan x="1720.5" y="699.5">regulation of</tspan><tspan x="1720.5" y="714.1">inflammatory</tspan><tspan x="1720.5" y="728.7">response</tspan></text></g>
<g id="b82" class="n"><rect x="1801" y="685" width="139" height="49"/><text><tspan x="1870.5" y="706.8">positive regulation</tspan><tspan x="1870.5" y="721.4">of defense response</tspan></text></g>
<g id="b83" class="n lb"><rect x="2075" y="685" width="105" height="49"/><text><tspan x="2127.5" y="706.8">innate immune</tspan><tspan x="2127.5" y="721.4">response</tspan></text></g>
<g id="b84" class="n"><rect x="2570" y="685" width="140" height="49"/><text><tspan x="2640" y="706.8">positive regulation</tspan><tspan x="2640" y="721.4">of immune response</tspan></text></g>
<g id="b85" class="n"><rect x="2805" y="685" width="195" height="49"/><text><tspan x="2902.5" y="706.8">immune response-regulating</tspan><tspan x="2902.5" y="721.4">signaling pathway</tspan></text></g>
<g id="b86" class="n"><rect x="3074" y="685" width="131" height="49"/><text><tspan x="3139.5" y="699.5">positive regulation</tspan><tspan x="3139.5" y="714.1">of immune effector</tspan><tspan x="3139.5" y="728.7">process</tspan></text></g>
<g id="b87" class="n"><rect x="3230" y="685" width="134" height="49"/><text><tspan x="3297" y="699.5">cytokine production</tspan><tspan x="3297" y="714.1">involved in</tspan><tspan x="3297" y="728.7">immune response</tspan></text></g>
<g id="b88" class="n"><rect x="3388" y="677" width="141" height="64"/><text><tspan x="3458.5" y="691.7">regulation of</tspan><tspan x="3458.5" y="706.3">production of</tspan><tspan x="3458.5" y="720.9">molecular mediator</tspan><tspan x="3458.5" y="735.5">of immune response</tspan></text></g>
<g id="b89" class="n"><rect x="3605" y="685" width="134" height="49"/><text><tspan x="3672" y="706.8">regulation of</tspan><tspan x="3672" y="721.4">cytokine production</tspan></text></g>
<g id="b90" class="n"><rect x="3815" y="685" width="130" height="49"/><text><tspan x="3880" y="706.8">positive regulation</tspan><tspan x="3880" y="721.4">of gene expression</tspan></text></g>
<g id="b91" class="n"><rect x="4670" y="685" width="142" height="49"/><text><tspan x="4741" y="699.5">regulation of</tspan><tspan x="4741" y="714.1">phosphate metabolic</tspan><tspan x="4741" y="728.7">process</tspan></text></g>
<g id="b92" class="n"><rect x="4939" y="685" width="148" height="49"/><text><tspan x="5013" y="706.8">nucleoside phosphate</tspan><tspan x="5013" y="721.4">metabolic process</tspan></text></g>
<g id="b93" class="n"><rect x="2166" y="805" width="106" height="49"/><text><tspan x="2219" y="819.5">regulation of</tspan><tspan x="2219" y="834.1">innate immune</tspan><tspan x="2219" y="848.7">response</tspan></text></g>
<g id="b94" class="n"><rect x="2698" y="805" width="123" height="49"/><text><tspan x="2759.5" y="826.8">activation of</tspan><tspan x="2759.5" y="841.4">immune response</tspan></text></g>
<g id="b95" class="n"><rect x="3343" y="797" width="135" height="65"/><text><tspan x="3410.5" y="812.2">regulation of</tspan><tspan x="3410.5" y="826.8">cytokine production</tspan><tspan x="3410.5" y="841.4">involved in</tspan><tspan x="3410.5" y="856">immune response</tspan></text></g>
<g id="b96" class="n"><rect x="3502" y="789" width="128" height="79"/><text><tspan x="3566" y="803.9">positive regulation</tspan><tspan x="3566" y="818.5">of production</tspan><tspan x="3566" y="833.1">of molecular</tspan><tspan x="3566" y="847.7">mediator of</tspan><tspan x="3566" y="862.3">immune response</tspan></text></g>
<g id="b97" class="n"><rect x="3713" y="805" width="128" height="49"/><text><tspan x="3777" y="819.5">positive regulation</tspan><tspan x="3777" y="834.1">of cytokine</tspan><tspan x="3777" y="848.7">production</tspan></text></g>
<g id="b98" class="n"><rect x="4942" y="805" width="142" height="49"/><text><tspan x="5013" y="826.8">nucleotide metabolic</tspan><tspan x="5013" y="841.4">process</tspan></text></g>
<g id="b99" class="n"><rect x="2154" y="924" width="128" height="50"/><text><tspan x="2218" y="939">positive regulation</tspan><tspan x="2218" y="953.6">of innate immune</tspan><tspan x="2218" y="968.2">response</tspan></text></g>
<g id="b100" class="n"><rect x="2796" y="925" width="192" height="48"/><text><tspan x="2892" y="946.3">immune response-activating</tspan><tspan x="2892" y="960.9">signaling pathway</tspan></text></g>
<g id="b101" class="n lb"><rect x="3418" y="917" width="139" height="64"/><text><tspan x="3487.5" y="931.7">positive regulation</tspan><tspan x="3487.5" y="946.3">of cytokine</tspan><tspan x="3487.5" y="960.9">production involved</tspan><tspan x="3487.5" y="975.5">in immune response</tspan></text></g>
<g id="b102" class="n"><rect x="4806" y="924" width="142" height="50"/><text><tspan x="4877" y="939">regulation of</tspan><tspan x="4877" y="953.6">nucleotide metabolic</tspan><tspan x="4877" y="968.2">process</tspan></text></g>
<g id="b103" class="n"><rect x="4973" y="925" width="125" height="48"/><text><tspan x="5035.5" y="946.3">purine nucleotide</tspan><tspan x="5035.5" y="960.9">metabolic process</tspan></text></g>
<g id="b104" class="n"><rect x="2705" y="1029" width="105" height="50"/><text><tspan x="2757.5" y="1044">activation of</tspan><tspan x="2757.5" y="1058.6">innate immune</tspan><tspan x="2757.5" y="1073.2">response</tspan></text></g>
<g id="b105" class="n cb"><rect x="4893" y="1030" width="125" height="49"/><text><tspan x="4955.5" y="1044.5">regulation of</tspan><tspan x="4955.5" y="1059.1">purine nucleotide</tspan><tspan x="4955.5" y="1073.7">metabolic process</tspan></text></g>
<g id="b106" class="n"><rect x="2819" y="1129" width="133" height="49"/><text><tspan x="2885.5" y="1143.5">innate immune</tspan><tspan x="2885.5" y="1158.1">response-activating</tspan><tspan x="2885.5" y="1172.7">signaling pathway</tspan></text></g>
<g id="b107" class="n lb"><rect x="2820" y="1227" width="131" height="50"/><text><tspan x="2885.5" y="1242">pattern recognition</tspan><tspan x="2885.5" y="1256.6">receptor signaling</tspan><tspan x="2885.5" y="1271.2">pathway</tspan></text></g>
<g id="b108" class="n"><rect x="2976" y="1227" width="123" height="50"/><text><tspan x="3037.5" y="1242">intracellular</tspan><tspan x="3037.5" y="1256.6">receptor signaling</tspan><tspan x="3037.5" y="1271.2">pathway</tspan></text></g>
<g id="b109" class="n"><rect x="2824" y="1333" width="123" height="64"/><text><tspan x="2885.5" y="1347.7">cytosolic pattern</tspan><tspan x="2885.5" y="1362.3">recognition</tspan><tspan x="2885.5" y="1376.9">receptor signaling</tspan><tspan x="2885.5" y="1391.5">pathway</tspan></text></g>
<g id="b110" class="n"><rect x="2971" y="1326" width="132" height="79"/><text><tspan x="3037" y="1340.9">nucleotide-binding</tspan><tspan x="3037" y="1355.5">domain, leucine</tspan><tspan x="3037" y="1370.1">rich repeat</tspan><tspan x="3037" y="1384.7">containing receptor</tspan><tspan x="3037" y="1399.3">signaling pathway</tspan></text></g>
<g id="b111" class="n"><rect x="2898" y="1453" width="126" height="64"/><text><tspan x="2961" y="1467.7">nucleotide-binding</tspan><tspan x="2961" y="1482.3">oligomerization</tspan><tspan x="2961" y="1496.9">domain containing</tspan><tspan x="2961" y="1511.5">signaling pathway</tspan></text></g>
<g id="b112" class="n lb"><rect x="2898" y="1566" width="126" height="79"/><text><tspan x="2961" y="1580.9">nucleotide-binding</tspan><tspan x="2961" y="1595.5">oligomerization</tspan><tspan x="2961" y="1610.1">domain containing</tspan><tspan x="2961" y="1624.7">2 signaling</tspan><tspan x="2961" y="1639.3">pathway</tspan></text></g>
</g>
</svg>
